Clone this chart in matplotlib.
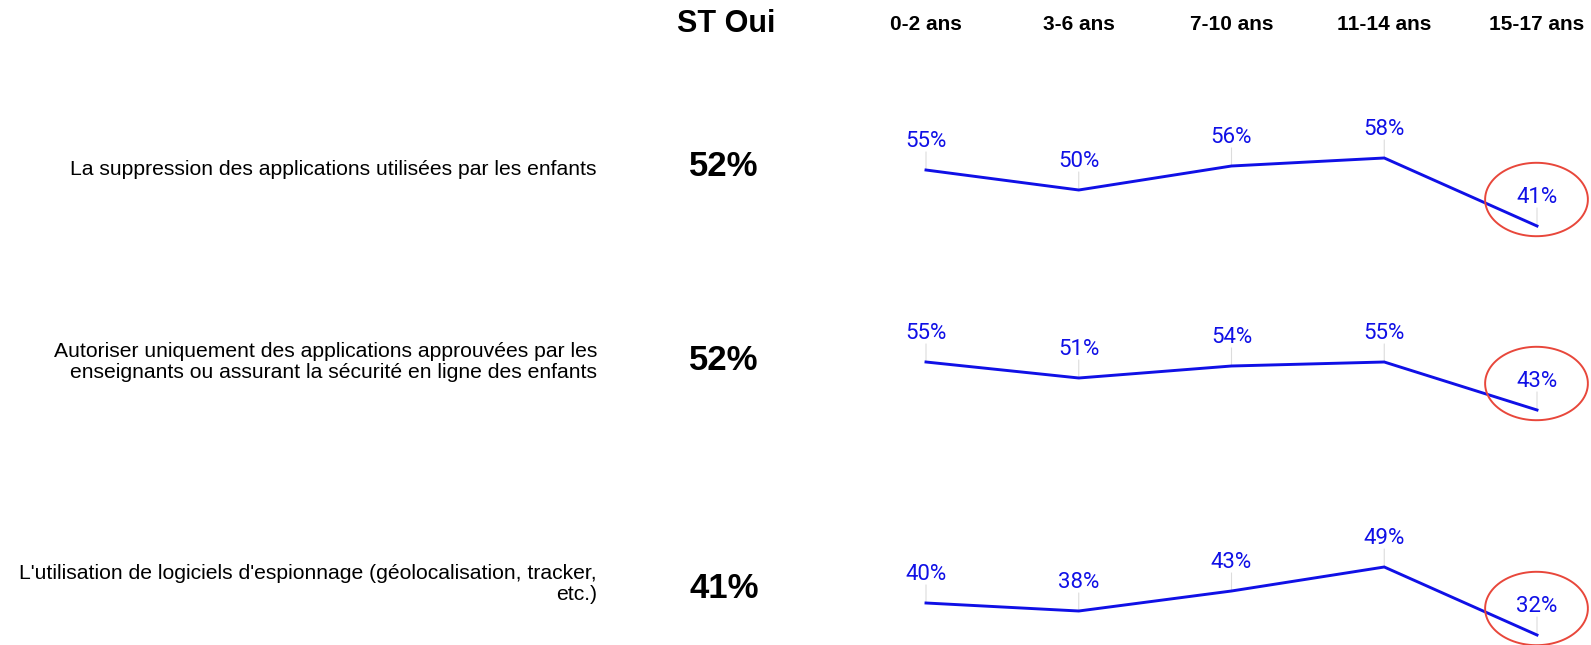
import matplotlib
matplotlib.use("Agg")
import matplotlib.pyplot as plt
import matplotlib.transforms as mtransforms
from matplotlib.path import Path
import numpy as np

age_groups = ["0-2 ans", "3-6 ans", "7-10 ans", "11-14 ans", "15-17 ans"]
statements = [
    "La suppression des applications utilisées par les enfants",
    "Autoriser uniquement des applications approuvées par les\nenseignants ou assurant la sécurité en ligne des enfants",
    "L'utilisation de logiciels d'espionnage (géolocalisation, tracker,\netc.)",
]
st_oui = [52, 52, 41]
values_row1 = [55, 50, 56, 58, 41]
values_row2 = [55, 51, 54, 55, 43]
values_row3 = [40, 38, 43, 49, 32]
rows = [values_row1, values_row2, values_row3]

W, H = 1591, 645
DPI = 100
BLUE = "#1010e6"
RED = "#e8473b"

fig = plt.figure(figsize=(W / DPI, H / DPI), dpi=DPI)
fig.patch.set_facecolor("white")

# pixel layout (from top-left)
x0_px, x4_px = 926, 1537
unit_px = (x4_px - x0_px) / 4
xlo, xhi = -0.3, 4.3
ylo, yhi = 20, 70
px_per_pt = 4.0
anchors_55 = [170, 362, 543]      # vertical pixel where the value 55 falls
label_y = [169, 362, 584]
st_y = [167, 360, 588]

# elliptical ring used to highlight the last age group
theta = np.linspace(0, 2 * np.pi, 100)
ring = Path(np.column_stack([1.4 * np.cos(theta), np.sin(theta)]))

axes = []
for i, vals in enumerate(rows):
    left = x0_px + xlo * unit_px
    width = (xhi - xlo) * unit_px
    top = anchors_55[i] - (yhi - 55) * px_per_pt
    height = (yhi - ylo) * px_per_pt
    ax = fig.add_axes([left / W, (H - top - height) / H, width / W, height / H])
    ax.set_xlim(xlo, xhi)
    ax.set_ylim(ylo, yhi)
    ax.axis("off")
    ax.patch.set_alpha(0)

    x = np.arange(len(vals))
    ax.plot(x, vals, color=BLUE, lw=2.1, solid_joinstyle="miter", zorder=3)
    for xi, v in zip(x, vals):
        ax.annotate("", xy=(xi, v), xytext=(0, 13), textcoords="offset points",
                    arrowprops=dict(arrowstyle="-", color="#dcdcdc", lw=0.8,
                                    shrinkA=0, shrinkB=0), zorder=1)
        ax.annotate(f"{v}%", xy=(xi, v), xytext=(0, 13), textcoords="offset points",
                    ha="center", va="bottom", color=BLUE, fontsize=16,
                    family="Roboto")

    ring_trans = mtransforms.offset_copy(ax.transData, fig=fig, x=-1, y=19.5,
                                         units="points")
    ax.plot([x[-1]], [vals[-1]], marker=ring, ms=74, mfc="none", mec=RED,
            mew=1.4, transform=ring_trans, clip_on=False, zorder=4)
    axes.append(ax)

    fig.text(597 / W, 1 - label_y[i] / H, statements[i], ha="right", va="center",
             fontsize=15.2, family="Liberation Sans", linespacing=1.15)
    fig.text(724 / W, 1 - st_y[i] / H, f"{st_oui[i]}%", ha="center", va="center",
             fontsize=25, fontweight="bold", family="Liberation Sans")

fig.text(726 / W, 1 - 24 / H, "ST Oui", ha="center", va="center",
         fontsize=22, fontweight="bold", family="Liberation Sans")

head_trans = mtransforms.blended_transform_factory(axes[0].transData, fig.transFigure)
for k, g in enumerate(age_groups):
    axes[0].text(k, 1 - 24 / H, g, transform=head_trans, ha="center", va="center",
                 fontsize=15, fontweight="bold", family="Liberation Sans",
                 clip_on=False)

fig.savefig("out.png", dpi=DPI, facecolor="white")
